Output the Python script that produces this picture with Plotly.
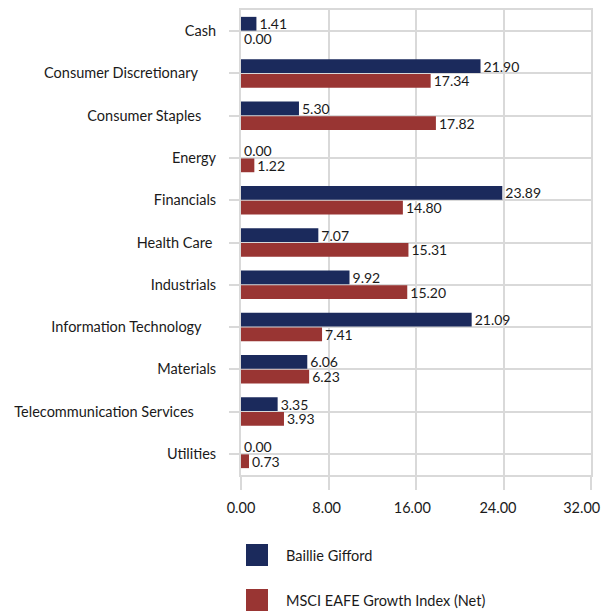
import plotly.graph_objects as go

categories = ["Cash", "Consumer Discretionary", "Consumer Staples", "Energy", "Financials",
              "Health Care", "Industrials", "Information Technology", "Materials",
              "Telecommunication Services", "Utilities"]
baillie = [1.41, 21.90, 5.30, 0.00, 23.89, 7.07, 9.92, 21.09, 6.06, 3.35, 0.00]
msci = [0.00, 17.34, 17.82, 1.22, 14.80, 15.31, 15.20, 7.41, 6.23, 3.93, 0.73]
series_names = ["Baillie Gifford", "MSCI EAFE Growth Index (Net)"]
x_ticks = [0, 8, 16, 24, 32]
# trailing spaces present in the original category labels
label_pad = {"Consumer Discretionary": 5, "Consumer Staples": 4, "Health Care": 1,
             "Information Technology": 4, "Telecommunication Services": 6}
# x tick labels in the source drift left progressively
xtick_pad = [0, 1, 2, 3, 5]

NAVY = "#1B2A5C"
RED = "#993533"
GRID = "#D9D9D9"
FONT = "Lato"
TXT = "#1a1a1a"
FS = 14.5

fig = go.Figure()
for name, vals, col in [(series_names[0], baillie, NAVY), (series_names[1], msci, RED)]:
    fig.add_trace(go.Bar(
        y=categories, x=vals, orientation="h", name=name,
        marker=dict(color=col, line=dict(width=0)),
        text=[f"{v:.2f}" for v in vals], textposition="outside",
        textfont=dict(family=FONT, size=14, color=TXT),
        constraintext="none", cliponaxis=False, showlegend=False,
    ))

ticktext = [c + "\u00a0" * label_pad.get(c, 0) for c in categories]
xticktext = [f"{t:.2f}" + "\u00a0" * p for t, p in zip(x_ticks, xtick_pad)]

fig.update_layout(
    width=604, height=615,
    margin=dict(l=241, r=13, t=10, b=140),
    paper_bgcolor="white", plot_bgcolor="white",
    barmode="group", bargap=0.3, bargroupgap=0.07,
    font=dict(family=FONT, size=FS, color=TXT),
    xaxis=dict(range=[0, 32], tickvals=x_ticks, ticktext=xticktext,
               automargin=False, ticklabeloverflow="allow", ticklabelstandoff=6,
               showgrid=True, gridcolor=GRID, gridwidth=2,
               showline=True, linecolor=GRID, linewidth=2, mirror=True,
               ticks="outside", ticklen=13, tickcolor=GRID, tickwidth=2,
               zeroline=False, tickfont=dict(family=FONT, size=FS, color=TXT)),
    yaxis=dict(autorange="reversed", tickvals=categories, ticktext=ticktext,
               automargin=False, ticklabelstandoff=10,
               showgrid=True, gridcolor=GRID, gridwidth=2,
               showline=True, linecolor=GRID, linewidth=2, mirror=True,
               ticks="outside", ticklen=10, tickcolor=GRID, tickwidth=2,
               tickfont=dict(family=FONT, size=FS, color=TXT)),
    showlegend=False,
)

# legend drawn as swatches + labels below the plot
plot_h = 615 - 10 - 140
plot_w = 604 - 241 - 13
def px_x(px):
    return (px - 241) / plot_w
def px_y(py):
    return (475 - py) / plot_h

for i, (name, col) in enumerate(zip(series_names, [NAVY, RED])):
    top = 544 + 45 * i
    fig.add_shape(type="rect", xref="paper", yref="paper",
                  x0=px_x(246), x1=px_x(268), y0=px_y(top), y1=px_y(top + 22),
                  fillcolor=col, line=dict(width=0))
    fig.add_annotation(xref="paper", yref="paper", x=px_x(284), y=px_y(top + 11),
                       text=name, showarrow=False, xanchor="left", yanchor="middle",
                       font=dict(family=FONT, size=FS, color=TXT))

fig.write_html("out.html", config={"displayModeBar": False},
               post_script="document.body.style.margin='0';document.body.style.overflow='hidden';")
